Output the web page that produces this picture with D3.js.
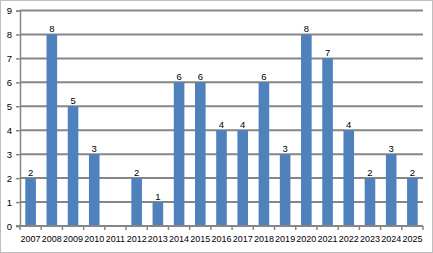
<!DOCTYPE html>
<html>
<head>
<meta charset="utf-8">
<script src="https://cdn.jsdelivr.net/npm/d3@7"></script>
<style>
  body { margin: 0; background: #fff; }
  svg text { font-family: "Liberation Sans", Arial, sans-serif; font-size: 9.5px; fill: #000; }
  svg text.yr { font-size: 9px; }
</style>
</head>
<body>
<svg id="chart" width="433" height="253"></svg>
<script>
  const years = ["2007","2008","2009","2010","2011","2012","2013","2014","2015","2016",
                 "2017","2018","2019","2020","2021","2022","2023","2024","2025"];
  const counts = [2, 8, 5, 3, 0, 2, 1, 6, 6, 4, 4, 6, 3, 8, 7, 4, 2, 3, 2];
  const yTicks = [0, 1, 2, 3, 4, 5, 6, 7, 8, 9];

  const width = 433, height = 253;
  const margin = {top: 10.5, right: 10, bottom: 27, left: 20};

  var svg = d3.select("#chart");

  // outer frame
  svg.append("rect")
    .attr("x", 0.5).attr("y", 0.5)
    .attr("width", width - 1).attr("height", height - 1)
    .attr("fill", "#fff")
    .attr("stroke", "#bfbfbf");

  var x = d3.scaleBand()
    .domain(years)
    .range([margin.left, width - margin.right])
    .paddingInner(0.5)
    .paddingOuter(0.25);

  var y = d3.scaleLinear()
    .domain([0, 9])
    .range([height - margin.bottom, margin.top]);

  // gridlines
  svg.append("g")
    .selectAll("line")
    .data(yTicks.filter(d => d > 0))
    .join("line")
      .attr("x1", margin.left)
      .attr("x2", width - margin.right)
      .attr("y1", d => y(d))
      .attr("y2", d => y(d))
      .attr("stroke", "#868686")
      .attr("stroke-width", 2);

  var rows = counts.map((v, i) => ({year: years[i], v: v})).filter(d => d.v > 0);

  // bars
  svg.append("g")
    .selectAll("rect")
    .data(rows)
    .join("rect")
      .attr("x", d => x(d.year))
      .attr("y", d => y(d.v))
      .attr("width", x.bandwidth())
      .attr("height", d => y(0) - y(d.v))
      .attr("fill", "#4f81bd");

  // value labels
  svg.append("g")
    .selectAll("text")
    .data(rows)
    .join("text")
      .attr("x", d => x(d.year) + x.bandwidth() / 2)
      .attr("y", d => y(d.v) - 2)
      .attr("text-anchor", "middle")
      .text(d => d.v);

  // y axis
  var yAxis = svg.append("g")
    .attr("transform", `translate(${margin.left},0)`)
    .call(d3.axisLeft(y).tickValues(yTicks).tickSize(4).tickPadding(4));
  yAxis.select(".domain").attr("stroke", "#868686").attr("stroke-width", 1.5);
  yAxis.selectAll(".tick line").attr("stroke", "#868686").attr("stroke-width", 1.5);
  yAxis.selectAll("text").attr("font-size", null).attr("font-family", null);

  // x axis with ticks on category boundaries
  var xAxis = svg.append("g")
    .attr("transform", `translate(0,${y(0)})`);
  xAxis.append("line")
    .attr("x1", margin.left - 4).attr("x2", width - margin.right)
    .attr("stroke", "#868686").attr("stroke-width", 2);
  var step = (width - margin.left - margin.right) / years.length;
  xAxis.selectAll("line.tk")
    .data(d3.range(years.length + 1))
    .join("line")
      .attr("class", "tk")
      .attr("x1", i => margin.left + i * step)
      .attr("x2", i => margin.left + i * step)
      .attr("y1", 0).attr("y2", 4)
      .attr("stroke", "#868686").attr("stroke-width", 1.5);
  xAxis.selectAll("text")
    .data(years)
    .join("text")
      .attr("class", "yr")
      .attr("x", d => x(d) + x.bandwidth() / 2)
      .attr("y", 15.5)
      .attr("text-anchor", "middle")
      .text(d => d);
</script>
</body>
</html>
